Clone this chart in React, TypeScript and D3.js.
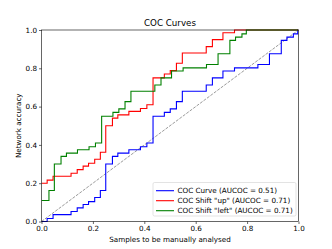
import * as d3 from "d3";
import React, { useEffect, useRef } from "react";

const blueX = [0, 0.022, 0.045, 0.115, 0.139, 0.162, 0.183, 0.207, 0.229, 0.25, 0.276, 0.297, 0.34, 0.385, 0.41, 0.434, 0.478, 0.501, 0.525, 0.548, 0.641, 0.665, 0.706, 0.751, 0.842, 0.887, 0.933, 0.955, 0.98, 0.997, 1.0];
const blueY = [0, 0.016, 0.036, 0.052, 0.071, 0.089, 0.104, 0.125, 0.162, 0.3, 0.34, 0.357, 0.375, 0.39, 0.41, 0.55, 0.57, 0.588, 0.626, 0.68, 0.713, 0.75, 0.786, 0.802, 0.82, 0.876, 0.946, 0.963, 0.98, 1.0, 1.0];

const redX = [0, 0.022, 0.045, 0.115, 0.139, 0.162, 0.183, 0.207, 0.229, 0.25, 0.276, 0.297, 0.34, 0.385, 0.41, 0.434, 0.478, 0.501, 0.525, 0.548, 0.641, 0.665, 0.706, 0.751, 1.0];
const redY = [0.2, 0.216, 0.236, 0.252, 0.271, 0.289, 0.304, 0.325, 0.362, 0.5, 0.54, 0.557, 0.575, 0.59, 0.61, 0.75, 0.77, 0.788, 0.826, 0.88, 0.913, 0.95, 0.986, 1.0, 1.0];

const greenX = [0, 0.029, 0.05, 0.076, 0.097, 0.14, 0.185, 0.21, 0.234, 0.278, 0.301, 0.325, 0.348, 0.441, 0.465, 0.506, 0.551, 0.642, 0.687, 0.733, 0.755, 0.78, 0.797, 1.0];
const greenY = [0.11, 0.162, 0.3, 0.34, 0.357, 0.375, 0.39, 0.41, 0.55, 0.57, 0.588, 0.626, 0.68, 0.713, 0.75, 0.786, 0.802, 0.82, 0.876, 0.946, 0.963, 0.98, 1.0, 1.0];

const ticks = [0, 0.2, 0.4, 0.6, 0.8, 1.0];

const series = [
    { label: "COC Curve (AUCOC = 0.51)", color: "#0000ff", xs: blueX, ys: blueY },
    { label: 'COC Shift "up" (AUCOC = 0.71)', color: "#ff0000", xs: redX, ys: redY },
    { label: 'COC Shift "left" (AUCOC = 0.71)', color: "#008000", xs: greenX, ys: greenY },
];

export default function App() {
    const svgRef = useRef<SVGSVGElement>(null);

    useEffect(() => {
        const svg = d3.select(svgRef.current);
        const width = 332;
        const height = 249;
        const margin = { top: 30, right: 33.5, bottom: 27.5, left: 41.5 };
        const font = "DejaVu Sans";

        svg.selectAll("*").remove();

        const x = d3.scaleLinear().domain([0, 1]).range([margin.left, width - margin.right]);
        const y = d3.scaleLinear().domain([0, 1]).range([height - margin.bottom, margin.top]);

        const clip = svg.append("clipPath").attr("id", "plotclip").append("rect")
            .attr("x", margin.left).attr("y", margin.top - 1)
            .attr("width", x(1) - x(0)).attr("height", y(0) - y(1) + 2);

        const plot = svg.append("g").attr("clip-path", "url(#plotclip)");

        plot.append("line")
            .attr("x1", x(0)).attr("y1", y(0)).attr("x2", x(1)).attr("y2", y(1))
            .attr("stroke", "#808080").attr("stroke-width", 0.8)
            .attr("stroke-dasharray", "3,1.3");

        const line = d3.line<number>().curve(d3.curveStepAfter);
        series.forEach((s) => {
            const pts = s.xs.map((v, i) => [x(v), y(s.ys[i])] as [number, number]);
            plot.append("path")
                .attr("d", line(pts as any))
                .attr("fill", "none")
                .attr("stroke", s.color)
                .attr("stroke-width", 1.1);
        });

        const xAxis = svg.append("g")
            .attr("transform", `translate(0,${height - margin.bottom})`)
            .call(d3.axisBottom(x).tickValues(ticks).tickFormat(d3.format(".1f")).tickSize(2.5).tickPadding(2));
        const yAxis = svg.append("g")
            .attr("transform", `translate(${margin.left},0)`)
            .call(d3.axisLeft(y).tickValues(ticks).tickFormat(d3.format(".1f")).tickSize(2.5).tickPadding(2));
        [xAxis, yAxis].forEach((a) => {
            a.select(".domain").remove();
            a.selectAll("line").attr("stroke", "#000").attr("stroke-width", 0.6);
            a.selectAll("text").attr("font-family", font).attr("font-size", 7.2).attr("fill", "#000");
        });

        svg.append("rect")
            .attr("x", x(0)).attr("y", y(1))
            .attr("width", x(1) - x(0)).attr("height", y(0) - y(1))
            .attr("fill", "none").attr("stroke", "#000").attr("stroke-width", 0.6);

        svg.append("text")
            .attr("x", (x(0) + x(1)) / 2).attr("y", 25.5)
            .attr("text-anchor", "middle").attr("font-family", font).attr("font-size", 8.7)
            .text("COC Curves");

        svg.append("text")
            .attr("x", (x(0) + x(1)) / 2).attr("y", 242)
            .attr("text-anchor", "middle").attr("font-family", font).attr("font-size", 7.2)
            .text("Samples to be manually analysed");

        svg.append("text")
            .attr("transform", `translate(20.5,${(y(0) + y(1)) / 2}) rotate(-90)`)
            .attr("text-anchor", "middle").attr("font-family", font).attr("font-size", 7.2)
            .text("Network accuracy");

        const lg = svg.append("g").attr("transform", "translate(153,182.5)");
        lg.append("rect")
            .attr("width", 143).attr("height", 33.5).attr("rx", 1.5)
            .attr("fill", "#fff").attr("fill-opacity", 0.8)
            .attr("stroke", "#d0d0d0").attr("stroke-width", 0.6);
        series.forEach((s, i) => {
            const cy = 8.2 + i * 10;
            lg.append("line")
                .attr("x1", 3).attr("x2", 21).attr("y1", cy).attr("y2", cy)
                .attr("stroke", s.color).attr("stroke-width", 1.1);
            lg.append("text")
                .attr("x", 24.5).attr("y", cy + 2.6)
                .attr("font-family", font).attr("font-size", 7.2)
                .text(s.label);
        });
    }, []);

    return (
        <svg ref={svgRef} width={332} height={249} style={{ position: "absolute", left: 0, top: 0 }}></svg>
    );
}
